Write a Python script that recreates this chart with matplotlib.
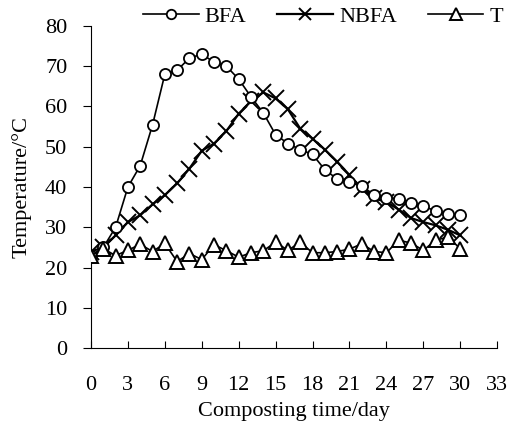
import matplotlib
matplotlib.use('Agg')
import matplotlib.pyplot as plt
import numpy as np

plt.rcParams['font.family'] = ['Liberation Serif', 'DejaVu Serif']
plt.rcParams['font.size'] = 16

# composting days
days = list(range(0, 31))

# temperature of each pile
bfa = [23, 25, 30, 40, 45.3, 55.4, 68, 69, 72, 73, 71, 70, 66.8, 62.4, 58.4,
       53, 50.8, 49.3, 48.1, 44.3, 42, 41.2, 40.2, 38.1, 37.4, 37.1, 36.1,
       35.2, 34.1, 33.2, 33.1]
nbfa = [24, 25, 28, 31.3, 33, 35.7, 38, 40.9, 44.6, 49, 50.8, 53.9, 58.2,
        61.3, 63.5, 62, 59.3, 54.5, 52, 49.3, 46.3, 43, 39.6, 37.2, 36.3,
        34.4, 32.3, 31.3, 30.5, 29.4, 28]
tamb = [23, 24.7, 23, 24.3, 25.8, 24, 26, 21.5, 23.5, 22, 25.7, 24.2, 22.6,
        23.7, 24.2, 26.3, 24.3, 26.3, 23.7, 23.7, 24, 24.6, 25.9, 24, 23.7,
        26.8, 26.1, 24.3, 26.8, 27.6, 24.7]

xticks = list(range(0, 34, 3))
yticks = list(range(0, 90, 10))

fig = plt.figure(figsize=(5.11, 4.32), dpi=100)
ax = fig.add_axes([0.178, 0.194, 0.795, 0.746])

ax.plot(days, bfa, color='black', lw=1.2, marker='o', ms=8,
        mfc='white', mec='black', mew=1.3, label='BFA', zorder=3)
ax.plot(days, nbfa, color='black', lw=1.6, marker='x', ms=11,
        mec='black', mew=1.4, label='NBFA', zorder=2)
ax.plot(days, tamb, color='black', lw=1.2, marker='^', ms=10.5,
        mfc='white', mec='black', mew=1.4, label='T', zorder=4)

ax.set_xlim(0, 33)
ax.set_ylim(0, 80)
ax.set_xticks(xticks)
ax.set_yticks(yticks)
ax.tick_params(axis='x', direction='in', length=5, pad=20)
ax.tick_params(axis='y', direction='out', length=6, pad=11)
for s in ['top', 'right']:
    ax.spines[s].set_visible(False)

ax.set_xlabel('Composting time/day', labelpad=5)
ax.set_ylabel('Temperature/\u00b0C', labelpad=10)

ax.legend(loc='center left', bbox_to_anchor=(0.128, 1.03), ncol=3, frameon=False,
          handlelength=2.5, handletextpad=0.27, columnspacing=1.4,
          borderaxespad=0.0, borderpad=0.0, markerscale=0.85)

fig.savefig('out.png', dpi=100)
